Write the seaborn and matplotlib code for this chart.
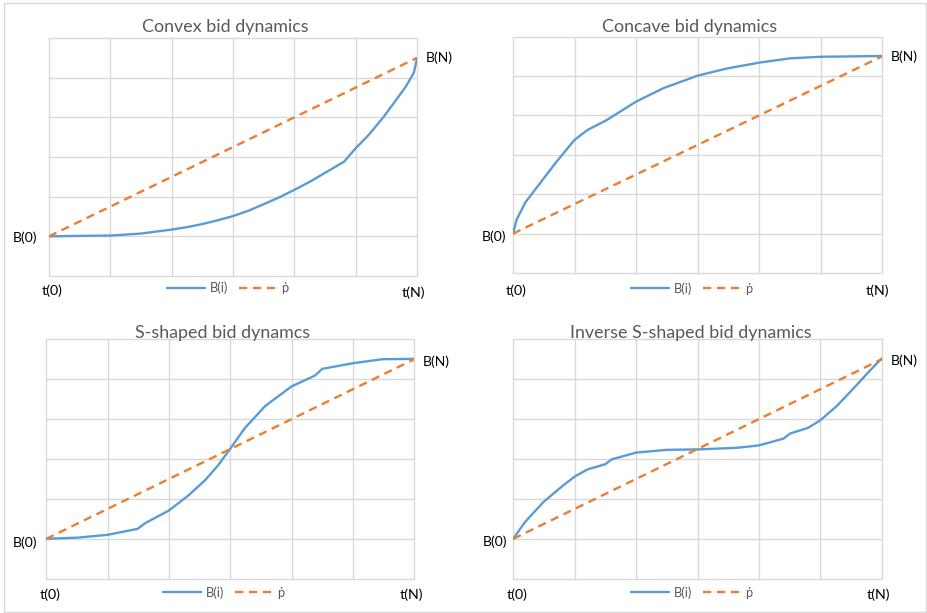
import matplotlib
matplotlib.use("Agg")
import matplotlib.pyplot as plt
from matplotlib.patches import Rectangle
import seaborn as sns
import pandas as pd

sns.set_style("white")
plt.rcParams["font.family"] = ["Lato", "DejaVu Sans"]

# ---- data (grid units: x 0..6, y 0..6) ----
convex_x = [0, 0.43, 1, 1.5, 2, 2.28, 2.5, 2.74, 3, 3.26, 3.5, 3.75, 4, 4.27, 4.51, 4.81,
            5.0, 5.22, 5.46, 5.65, 5.82, 5.95, 6]
convex_y = [1.0, 1.01, 1.02, 1.07, 1.17, 1.24, 1.31, 1.40, 1.51, 1.65, 1.81, 1.98, 2.17, 2.39,
            2.61, 2.88, 3.22, 3.57, 4.02, 4.42, 4.78, 5.13, 5.49]

concave_x = [0, 0.06, 0.2, 0.44, 0.71, 1.0, 1.21, 1.52, 2.0, 2.44, 3.0, 3.47, 4.0, 4.5, 5.0, 6]
concave_y = [1.0, 1.36, 1.79, 2.28, 2.83, 3.38, 3.63, 3.88, 4.35, 4.69, 5.01, 5.19, 5.34, 5.45,
             5.49, 5.51]

s_x = [0, 0.52, 1.0, 1.49, 1.61, 2.0, 2.32, 2.59, 2.8, 3.0, 3.24, 3.57, 4.0, 4.38, 4.5, 5.0,
       5.47, 6]
s_y = [1.0, 1.03, 1.1, 1.25, 1.39, 1.71, 2.09, 2.47, 2.84, 3.26, 3.78, 4.33, 4.82, 5.09, 5.26,
       5.40, 5.50, 5.51]

inv_x = [0, 0.19, 0.49, 0.79, 1.0, 1.21, 1.5, 1.6, 2.0, 2.5, 3.0, 3.64, 4.0, 4.4, 4.51, 4.8,
         5.0, 5.27, 5.59, 5.81, 6]
inv_y = [1.0, 1.42, 1.92, 2.31, 2.56, 2.74, 2.87, 2.99, 3.16, 3.23, 3.24, 3.28, 3.34, 3.51,
         3.64, 3.78, 3.97, 4.33, 4.85, 5.22, 5.52]

ref_x = [0, 6]
ref_y = [1.0, 5.5]

titles = ["Convex bid dynamics", "Concave bid dynamics",
          "S-shaped bid dynamcs", "Inverse S-shaped bid dynamics"]
series = [(convex_x, convex_y), (concave_x, concave_y), (s_x, s_y), (inv_x, inv_y)]

BLUE = "#5B9BD5"
ORANGE = "#ED7D31"
GRID = "#D9D9D9"
GRAYTXT = "#595959"

W, H = 927, 613
fig = plt.figure(figsize=(W / 100, H / 100), dpi=100)
fig.patch.set_facecolor("white")

def fx(px):
    return px / W

def fy(py):
    return 1 - py / H

# axes rectangles in pixel coords: (left, top, right, bottom)
rects = [(49, 38, 417, 276), (513, 36.7, 882, 273),
         (46.3, 339.3, 414.3, 578.7), (513.3, 339.3, 881.7, 578.7)]

title_pos = [(225, 27), (690, 27), (222.5, 332.7), (690.5, 333)]
b0_pos = [(37, 238), (506, 237), (37, 542.3), (507.7, 541.7)]
bn_pos = [(426, 58), (890.7, 57), (423, 361.7), (890.7, 360.7)]
t0_pos = [(52, 291), (516.5, 291), (50, 595), (516.7, 595)]
tn_pos = [(413, 293), (877, 291), (411, 595), (878.3, 595)]
leg_pos = [(228, 288), (692, 288.7), (224, 592.3), (692, 592.3)]

for i, ((l, t, r, b), title, (xs, ys)) in enumerate(zip(rects, titles, series)):
    ax = fig.add_axes([fx(l), fy(b), fx(r - l), (b - t) / H])
    df = pd.DataFrame({"x": xs, "y": ys})
    dref = pd.DataFrame({"x": ref_x, "y": ref_y})
    sns.lineplot(data=df, x="x", y="y", ax=ax, color=BLUE, lw=1.7,
                 label="B(i)", solid_capstyle="round", solid_joinstyle="round")
    sns.lineplot(data=dref, x="x", y="y", ax=ax, color=ORANGE, lw=1.7,
                 linestyle=(0, (3.5, 2.4)), label="ṗ")
    ax.set_xlim(0, 6)
    ax.set_ylim(0, 6)
    ax.set_xticks(range(7))
    ax.set_yticks(range(7))
    ax.set_xticklabels([])
    ax.set_yticklabels([])
    ax.tick_params(length=0)
    ax.set_xlabel("")
    ax.set_ylabel("")
    ax.grid(True, color=GRID, lw=1.0)
    ax.set_axisbelow(True)
    for s in ax.spines.values():
        s.set_visible(False)
    for gl in ax.get_xgridlines() + ax.get_ygridlines():
        gl.set_clip_on(False)

    leg = ax.legend(loc="center", bbox_to_anchor=(fx(leg_pos[i][0]), fy(leg_pos[i][1])),
                    bbox_transform=fig.transFigure, ncol=2, frameon=False,
                    fontsize=9.3, handlelength=2.9, handletextpad=0.35,
                    columnspacing=0.9, borderpad=0.0)
    for txt in leg.get_texts():
        txt.set_color(GRAYTXT)

    fig.text(fx(title_pos[i][0]), fy(title_pos[i][1]), title, ha="center", va="center",
             fontsize=12.9, color=GRAYTXT)
    fig.text(fx(b0_pos[i][0]), fy(b0_pos[i][1]), "B(0)", ha="right", va="center",
             fontsize=10, color="black")
    fig.text(fx(bn_pos[i][0]), fy(bn_pos[i][1]), "B(N)", ha="left", va="center",
             fontsize=10, color="black")
    fig.text(fx(t0_pos[i][0]), fy(t0_pos[i][1]), "t(0)", ha="center", va="center",
             fontsize=10.3, color="black")
    fig.text(fx(tn_pos[i][0]), fy(tn_pos[i][1]), "t(N)", ha="center", va="center",
             fontsize=10.3, color="black")

# outer frame
fig.patches.append(Rectangle((fx(4), fy(612)), fx(922), 609 / H, transform=fig.transFigure,
                             fill=False, edgecolor=GRID, lw=1.0))

fig.savefig("out.png", dpi=100)
